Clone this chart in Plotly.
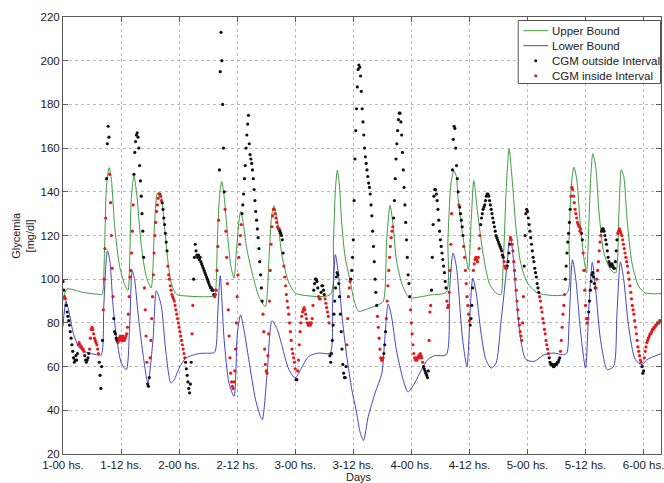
import numpy as np
import plotly.graph_objects as go

# ---- axis ticks (hours from day 1, 00 hs.) ----
tick_hours = [0, 12, 24, 36, 48, 60, 72, 84, 96, 108, 120]
tick_labels = ["1-00 hs.", "1-12 hs.", "2-00 hs.", "2-12 hs.", "3-00 hs.", "3-12 hs.",
               "4-00 hs.", "4-12 hs.", "5-00 hs.", "5-12 hs.", "6-00 hs."]

# ---- upper bound of the glycemia interval (hour, mg/dl) ----
upper_t = [0, 0.8, 4, 8.0, 8.16, 8.64, 8.98, 9.53, 10.0, 10.69, 11.7, 12.75, 13.43, 13.8, 14.1,
           14.67, 15.28, 16.2, 17.2, 18.2, 18.9, 19.4, 19.7, 20.28, 20.97, 21.65, 22.2, 22.7,
           23.5, 24.5, 31.3, 31.6, 31.9, 32.2, 32.5, 32.8, 33.3, 33.98, 34.7, 35.35, 35.8, 36.4,
           36.7, 37.2, 37.9, 39.1, 40.5, 41.8, 42.6, 43.1, 43.6, 44.3, 45.3, 46.7, 48.0, 49.0,
           55.2, 55.9, 56.3, 56.7, 57.1, 57.6, 58.3, 59.3, 60.2, 61.1, 63.0, 65.2, 66.2, 66.9,
           67.6, 68.25, 68.9, 70.0, 71.3, 72.0, 76.0, 79.2, 79.56, 80.2, 80.8, 81.3, 81.62, 82.5,
           83.3, 83.8, 84.4, 84.9, 85.7, 86.8, 88.1, 89.5, 90.5, 90.9, 91.2, 91.6, 92.2, 92.9,
           93.6, 94.6, 96.0, 98.1, 104.1, 104.6, 105.1, 105.6, 106.2, 106.9, 107.7, 108.2, 108.7,
           109.05, 109.5, 110.1, 110.8, 111.8, 113.2, 114.2, 114.9, 115.4, 115.9, 116.6, 117.6,
           119.0, 120.4, 123.6]
upper_v = [90, 95.5, 94, 93, 93.2, 118, 142.5, 151, 145.5, 124, 105.9, 97.5, 94.9, 110.4, 136.4,
           147.4, 137.9, 115, 101.3, 96, 124.2, 138.7, 139.7, 137.9, 124.2, 108.9, 100, 96,
           93, 92.5, 92.5, 96, 117, 133, 141, 144.8, 137.9, 121.1, 105.9, 100.5, 112, 127.2,
           131, 126.5, 115, 102.8, 92, 87.5, 110.4, 128.7, 133.6, 127.2, 110.4, 98.2, 93.7, 92.9,
           92.9, 118, 141, 149.8, 144, 125.7, 110.4, 99.8, 90, 85.3, 86.5, 88.3, 89.9, 118,
           133.8, 124.2, 108.9, 98.2, 92.1, 91.4, 92.8, 94.1, 118, 144, 149.6, 147, 138, 122,
           110.4, 104.3, 128, 145.2, 130.3, 112, 98.2, 93.7, 92.9, 102.8, 118, 141, 159.6, 144,
           124.2, 107.4, 98.2, 93.7, 93.4, 118, 144, 151.3, 145.5, 125.7, 108.9, 102.8, 125.7,
           145.5, 157.4, 151.6, 130.3, 112, 104.3, 102.8, 130.3, 150.1, 147, 127.2, 107.4,
           96.7, 93.7, 93.4]

# ---- lower bound of the glycemia interval (hour, mg/dl) ----
lower_t = [0, 0.6, 1.44, 2.1, 3.2, 4.2, 5.55, 6.9, 7.9, 8.43, 8.84, 9.18, 9.66, 10.35, 11.03,
           12.06, 13.09, 13.8, 14.3, 14.8, 15.5, 16.5, 17.55, 18.6, 19.3, 20.3, 21.2, 22.3, 23.0,
           24.0, 25.4, 28.2, 31.3, 31.7, 32.0, 32.5, 32.9, 33.3, 34.3, 35.35, 36.04, 36.7, 37.4,
           38.4, 39.8, 40.8, 41.2, 42.2, 43.2, 44.3, 45.3, 46.7, 48.0, 49.1, 50.8, 52.8, 55.2,
           55.7, 56.3, 56.9, 57.6, 58.65, 59.7, 60.7, 61.4, 62.1, 63.1, 64.5, 65.9, 66.5, 67.2,
           67.9, 68.9, 70.3, 71.3, 72.7, 74.1, 75.4, 76.8, 79.2, 79.9, 80.6, 81.3, 82.6, 83.5,
           84.2, 84.7, 85.4, 86.4, 87.4, 88.5, 89.5, 90.5, 91.6, 92.4, 92.9, 93.6, 94.6, 95.7,
           97.4, 99.4, 101.5, 103.2, 104.1, 104.6, 105.3, 106.0, 107.0, 108.0, 108.7, 109.4,
           110.1, 111.1, 112.5, 113.8, 114.5, 115.2, 115.9, 116.9, 118.3, 119.7, 120.7, 123.6]
lower_v = [78.4, 89.9, 83, 75.4, 69.2, 67, 66.2, 65.4, 65.4, 87.6, 105.9, 113, 108.9, 87.6, 73.8,
           61.6, 58.6, 79.9, 103.9, 99.8, 84.5, 66.2, 52.5, 72.3, 94.7, 88, 68, 52.5, 54,
           59.3, 63.9, 66, 66.5, 70, 85, 101.6, 88, 72.3, 52.5, 46.4, 75.4, 83.7, 76.9,
           63.2, 44.8, 37.2, 35.7, 57.1, 81, 76.9, 69.2, 58.6, 54.8, 58.6, 64.7, 66.2, 66.2,
           87.6, 111.2, 102.8, 84.5, 64.7, 49.4, 38.7, 30, 26.2, 37.2, 47.9, 57, 72.3, 88.6,
           83, 67.7, 54, 48.4, 52.5, 58.6, 63.2, 65, 65.4, 95.2, 112, 105.9, 72.3, 60.1,
           87.6, 100.5, 93.7, 75.4, 63.2, 59.3, 61.6, 79.9, 102.8, 119.6, 113.5, 93.7, 72.3, 63.2,
           62.4, 65.4, 66.2, 65.4, 66, 79.9, 108.9, 99.8, 75.4, 59.3, 87.6, 107.7,
           95.2, 72.3, 58.6, 60.1, 84.5, 107.9, 99.8, 78.4, 63.2, 60.9, 63.2, 65.9]

# ---- CGM readings, one every 10 minutes (one row per hour) ----
SAMPLE_MINUTES = 10
cgm_values = [
    99, 95, 92, 91, 88, 85,        # 1-00
    83, 81, 79, 76, 73, 70,
    67, 64, 62, 63, 65, 63,
    66, 70, 71, 70, 69, 69,
    68, 68, 67, 65, 63, 62,
    63, 64, 66, 68, 73, 77,
    78, 77, 75, 73, 72, 71,
    70, 68, 66, 62, 56, 50,
    60, 72, 86, 100, 114, 128,
    146, 162, 170, 165, 148, 135,
    120, 105, 92, 82, 76, 75,
    73, 72, 71, 73, 72, 74,
    73, 72, 74, 73, 72, 73,        # 1-12
    74, 75, 78, 84, 92, 101,
    104, 112, 122, 134, 148, 158,
    163, 166, 167, 165, 160, 152,
    145, 138, 130, 122, 110, 96,
    86, 74, 62, 52, 51, 55,
    64, 72, 82, 92, 102, 112,
    120, 126, 131, 134, 137, 139,
    139, 138, 136, 135, 132, 128,
    125, 121, 117, 113, 106, 102,
    100, 97, 95, 93, 92, 91,
    90, 88, 86, 84, 82, 80,
    78, 76, 74, 72, 70, 68,        # 2-00
    66, 64, 62, 59, 56, 53,
    50, 48, 52, 62, 75, 88,
    100, 110, 116, 113, 111, 110,
    111, 109, 110, 108, 107, 106,
    105, 104, 103, 102, 101, 100,
    99, 98, 97, 96, 96, 95,
    95, 93, 92, 93, 95, 104,
    115, 127, 150, 195, 213, 200,
    180, 160, 140, 132, 122, 110,
    98, 86, 74, 64, 57, 53,
    51, 50, 53, 58, 68, 80,
    92, 102, 110, 116, 120, 125,   # 2-12
    130, 134, 139, 146, 152, 160,
    166, 171, 175, 162, 157, 155,
    153, 150, 146, 141, 136, 131,
    127, 123, 119, 114, 108, 102,
    96, 90, 84, 76, 68, 61,
    58, 57, 65, 75, 90, 104,
    116, 124, 129, 132, 132, 130,
    128, 126, 124, 123, 123, 122,
    121, 120, 118, 112, 106, 101,
    97, 93, 90, 87, 84, 80,
    76, 72, 68, 66, 64, 62,
    59, 54, 54, 58, 63, 70,        # 3-00
    76, 80, 83, 85, 86, 87,
    86, 84, 82, 80, 79, 79,
    80, 79, 80, 82, 88, 95,
    98, 100, 100, 99, 96, 92,
    91, 91, 94, 97, 97, 95,
    93, 91, 89, 87, 85, 83,
    80, 65, 62, 66, 72, 79,
    84, 90, 96, 101, 103, 102,
    98, 92, 84, 76, 68, 61,
    57, 55, 55, 60, 70, 82,
    92, 96, 99, 100, 104, 110,
    118, 136, 155, 168, 178, 188,  # 3-12
    196, 198, 197, 193, 186, 178,
    172, 166, 160, 156, 153, 150,
    147, 144, 142, 139, 134, 129,
    122, 115, 108, 100, 94, 88,
    83, 78, 73, 68, 64, 63,
    63, 64, 66, 70, 76, 82,
    90, 97, 104, 110, 115, 119,
    122, 124, 128, 136, 146, 155,
    162, 168, 173, 176, 176, 172,
    166, 158, 150, 142, 134, 126,
    118, 110, 102, 98, 92, 86,
    80, 75, 70, 66, 64, 63,        # 4-00
    64, 63, 64, 65, 64, 66,
    65, 64, 62, 60, 59, 58,
    57, 56, 55, 58, 72, 85,
    88, 95, 110, 125, 138, 141,
    141, 139, 136, 132, 127, 122,
    118, 115, 112, 109, 106, 103,
    99, 96, 90, 87, 88, 94,
    104, 116, 130, 150, 164, 170,
    169, 160, 152, 146, 140, 134,
    133, 130, 127, 124, 120, 115,
    110, 104, 98, 92, 88, 84,
    81, 79, 82, 88, 96, 104,       # 4-12
    107, 109, 110, 109, 108, 110,
    114, 120, 125, 128, 130, 132,
    133, 134, 136, 138, 139, 139,
    138, 136, 134, 132, 130, 128,
    126, 124, 122, 120, 119, 118,
    117, 116, 115, 114, 113, 111,
    110, 108, 106, 105, 105, 106,
    108, 112, 116, 119, 118, 116,
    113, 108, 104, 100, 95, 90,
    86, 82, 79, 76, 74, 72,
    80, 92, 106, 120, 130, 132,
    131, 128, 125, 122, 119, 116,  # 5-00
    113, 110, 108, 105, 103, 101,
    98, 96, 94, 92, 90, 87,
    85, 82, 80, 77, 75, 72,
    70, 68, 66, 64, 62, 61,
    61, 61, 60, 60, 61, 61,
    61, 62, 62, 63, 64, 67,
    72, 78, 84, 88, 93, 100,
    106, 112, 117, 121, 126, 132,
    138, 142, 141, 138, 135, 132,
    130, 128, 126, 125, 124, 122,
    123, 121, 118, 112, 104, 95,
    88, 82, 80, 82, 85, 90,        # 5-12
    95, 99, 102, 103, 101, 98,
    96, 96, 100, 104, 108, 113,
    117, 120, 122, 123, 123, 122,
    120, 118, 116, 113, 110, 108,
    107, 106, 106, 107, 106, 105,
    105, 108, 113, 118, 121, 122,
    123, 122, 121, 120, 118, 116,
    114, 112, 110, 108, 106, 103,
    100, 97, 94, 91, 88, 86,
    84, 81, 78, 75, 72, 69,
    67, 65, 63, 62, 60, 57,
    58, 64, 67, 69, 71, 72,        # 6-00
    73, 74, 75, 75, 76, 77,
    77, 78, 78, 79, 79, 80,
    80, 80, 81, 81,
]

cgm = np.array(cgm_values, dtype=float)
cgm_t = np.arange(len(cgm)) * SAMPLE_MINUTES / 60.0

# a reading is "inside" when it lies between the two bounds at its time
up_at = np.interp(cgm_t, upper_t, upper_v)
lo_at = np.interp(cgm_t, lower_t, lower_v)
inside = (cgm >= lo_at) & (cgm <= up_at)

GREEN = "#3f9c3f"
BLUE = "#4545c2"
RED = "#e31a1c"
BLACK = "#111111"

fig = go.Figure()
fig.add_trace(go.Scatter(x=upper_t, y=upper_v, mode="lines", name="Upper Bound",
                         line=dict(color=GREEN, width=1, shape="spline", smoothing=0.7)))
fig.add_trace(go.Scatter(x=lower_t, y=lower_v, mode="lines", name="Lower Bound",
                         line=dict(color=BLUE, width=1, shape="spline", smoothing=0.7)))
fig.add_trace(go.Scatter(x=cgm_t[~inside], y=cgm[~inside], mode="markers",
                         name="CGM outside Interval",
                         marker=dict(color=BLACK, size=3.2, line=dict(width=0))))
fig.add_trace(go.Scatter(x=cgm_t[inside], y=cgm[inside], mode="markers",
                         name="CGM inside Interval",
                         marker=dict(color=RED, size=3.2, line=dict(width=0))))

FONT = "Liberation Sans, Arial, Helvetica, sans-serif"
TXT = "#1a1a1a"
AX = "#5a5a5a"

fig.update_layout(
    width=664, height=483,
    margin=dict(l=63, r=0, t=17, b=29),
    paper_bgcolor="white", plot_bgcolor="white",
    showlegend=False,
    font=dict(family=FONT, size=11.5, color=TXT),
)
axis_common = dict(showgrid=True, gridcolor="#b9b9b9", griddash="dot", gridwidth=1,
                   showline=True, linecolor=AX, linewidth=1, mirror="ticks",
                   ticks="inside", ticklen=5, tickcolor=AX, zeroline=False,
                   ticklabeloverflow="allow",
                   tickfont=dict(family=FONT, size=11.5, color=TXT))
fig.update_xaxes(range=[0, 123.6], tickvals=tick_hours, ticktext=tick_labels, **axis_common)
fig.update_yaxes(range=[20, 220], tickvals=list(range(20, 221, 20)), **axis_common)

# axis titles
fig.add_annotation(text="Days", xref="paper", yref="paper", x=0.495, y=-0.052,
                   xanchor="center", yanchor="middle", showarrow=False,
                   font=dict(family=FONT, size=11, color=TXT))
fig.add_annotation(text="Glycemia<br>[mg/dl]", xref="paper", yref="paper", x=-0.068, y=0.5,
                   xanchor="center", yanchor="middle", showarrow=False, textangle=-90,
                   font=dict(family=FONT, size=11, color=TXT))

# legend box in the upper right corner of the axes
def px_x(p):
    return (p - 63) / 601.0

def px_y(p):
    return (454 - p) / 437.0

fig.add_shape(type="rect", xref="paper", yref="paper",
              x0=px_x(520.5), x1=px_x(663.5), y0=px_y(83.5), y1=px_y(20.5),
              line=dict(color="#555555", width=1), fillcolor="white", layer="above")
legend_rows = [("Upper Bound", "line", GREEN, 30.7),
               ("Lower Bound", "line", BLUE, 45.7),
               ("CGM outside Interval", "dot", BLACK, 60.7),
               ("CGM inside Interval", "dot", RED, 75.7)]
for label, kind, color, ypx in legend_rows:
    if kind == "line":
        fig.add_shape(type="line", xref="paper", yref="paper",
                      x0=px_x(525.7), x1=px_x(550.7), y0=px_y(ypx), y1=px_y(ypx),
                      line=dict(color=color, width=1), layer="above")
    else:
        fig.add_shape(type="circle", xref="paper", yref="paper",
                      x0=px_x(536.6), x1=px_x(539.6), y0=px_y(ypx + 1.5), y1=px_y(ypx - 1.5),
                      line=dict(width=0), fillcolor=color, layer="above")
    fig.add_annotation(text=label, xref="paper", yref="paper", x=px_x(552.5), y=px_y(ypx),
                       xanchor="left", yanchor="middle", showarrow=False,
                       font=dict(family=FONT, size=11.5, color=TXT))

fig.write_html("out.html")
